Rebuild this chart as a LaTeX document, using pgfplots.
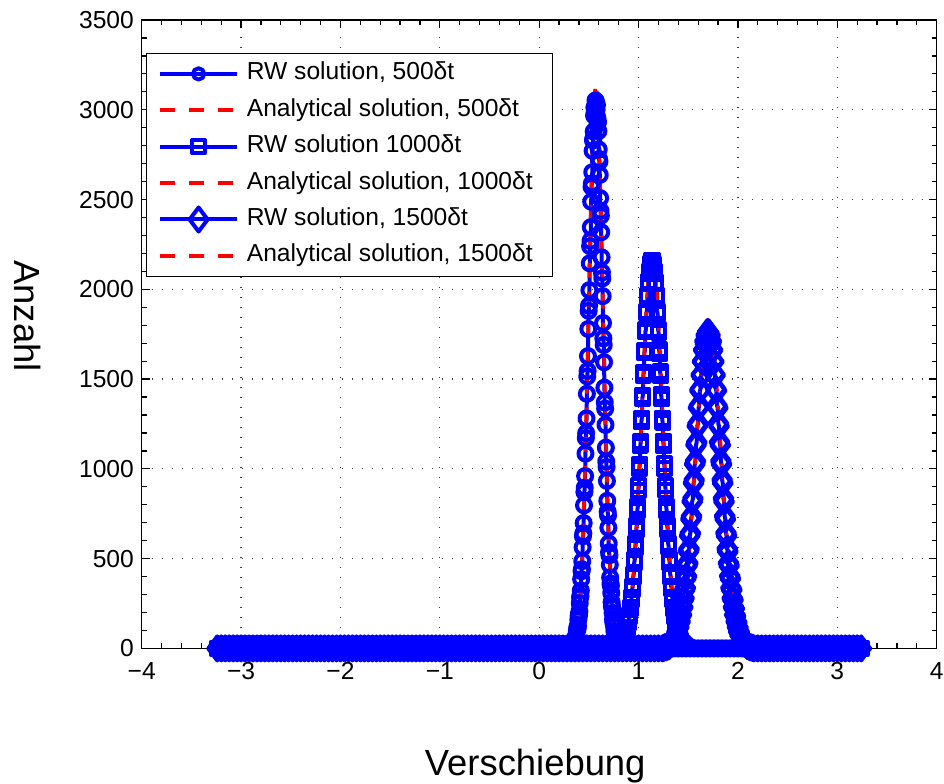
\documentclass[border=0pt]{standalone}
\usepackage{fontspec}
\setmainfont{Liberation Sans}
\usepackage{pgfplots}
\usepackage{pgfplotstable}
\pgfplotsset{compat=1.18}

% histogram baseline: bins with zero counts
\pgfplotstableread[row sep=\\]{
x y\\
-3.24 0\\ -3.20 0\\ -3.16 0\\ -3.12 0\\ -3.08 0\\ -3.04 0\\ -3.00 0\\ -2.96 0\\ -2.92 0\\ -2.88 0\\
-2.84 0\\ -2.80 0\\ -2.76 0\\ -2.72 0\\ -2.68 0\\ -2.64 0\\ -2.60 0\\ -2.56 0\\ -2.52 0\\ -2.48 0\\
-2.44 0\\ -2.40 0\\ -2.36 0\\ -2.32 0\\ -2.28 0\\ -2.24 0\\ -2.20 0\\ -2.16 0\\ -2.12 0\\ -2.08 0\\
-2.04 0\\ -2.00 0\\ -1.96 0\\ -1.92 0\\ -1.88 0\\ -1.84 0\\ -1.80 0\\ -1.76 0\\ -1.72 0\\ -1.68 0\\
-1.64 0\\ -1.60 0\\ -1.56 0\\ -1.52 0\\ -1.48 0\\ -1.44 0\\ -1.40 0\\ -1.36 0\\ -1.32 0\\ -1.28 0\\
-1.24 0\\ -1.20 0\\ -1.16 0\\ -1.12 0\\ -1.08 0\\ -1.04 0\\ -1.00 0\\ -0.96 0\\ -0.92 0\\ -0.88 0\\
-0.84 0\\ -0.80 0\\ -0.76 0\\ -0.72 0\\ -0.68 0\\ -0.64 0\\ -0.60 0\\ -0.56 0\\ -0.52 0\\ -0.48 0\\
-0.44 0\\ -0.40 0\\ -0.36 0\\ -0.32 0\\ -0.28 0\\ -0.24 0\\ -0.20 0\\ -0.16 0\\ -0.12 0\\ -0.08 0\\
-0.04 0\\ 0.00 0\\ 0.04 0\\ 0.08 0\\ 0.12 0\\ 0.16 0\\ 0.20 0\\ 0.24 0\\ 0.28 0\\ 0.32 0\\
0.36 0\\ 0.40 0\\ 0.44 0\\ 0.48 0\\ 0.52 0\\ 0.56 0\\ 0.60 0\\ 0.64 0\\ 0.68 0\\ 0.72 0\\
0.76 0\\ 0.80 0\\ 0.84 0\\ 0.88 0\\ 0.92 0\\ 0.96 0\\ 1.00 0\\ 1.04 0\\ 1.08 0\\ 1.12 0\\
1.16 0\\ 1.20 0\\ 1.24 0\\ 1.28 0\\ 1.32 0\\ 1.36 0\\ 1.40 0\\ 1.44 0\\ 1.48 0\\ 1.52 0\\
1.56 0\\ 1.60 0\\ 1.64 0\\ 1.68 0\\ 1.72 0\\ 1.76 0\\ 1.80 0\\ 1.84 0\\ 1.88 0\\ 1.92 0\\
1.96 0\\ 2.00 0\\ 2.04 0\\ 2.08 0\\ 2.12 0\\ 2.16 0\\ 2.20 0\\ 2.24 0\\ 2.28 0\\ 2.32 0\\
2.36 0\\ 2.40 0\\ 2.44 0\\ 2.48 0\\ 2.52 0\\ 2.56 0\\ 2.60 0\\ 2.64 0\\ 2.68 0\\ 2.72 0\\
2.76 0\\ 2.80 0\\ 2.84 0\\ 2.88 0\\ 2.92 0\\ 2.96 0\\ 3.00 0\\ 3.04 0\\ 3.08 0\\ 3.12 0\\
3.16 0\\ 3.20 0\\ 3.24 0\\
}\zeroline

\pgfplotsset{
  rw/.style={color=blue, solid, line width=2pt, line join=round,
    mark options={solid, line width=2pt}},
  an/.style={color=red, line width=1.8pt, line join=round,
    dash pattern=on 7.5pt off 7pt},
  rwlegend/.style={legend image code/.code={%
    \draw[##1, mark repeat=2, mark phase=2, #1]
      plot coordinates {(0pt,0pt) (19.15pt,0pt) (38.3pt,0pt)};}},
  anlegend/.style={legend image code/.code={%
    \draw[##1] (0pt,0pt) -- (38.3pt,0pt);}},
}

\begin{document}
\begin{tikzpicture}
\begin{axis}[
  scale only axis,
  width=397.5pt, height=314.2pt,
  xmin=-4, xmax=4, ymin=0, ymax=3500,
  xtick={-4,-3,-2,-1,0,1,2,3,4},
  xticklabels={−4,−3,−2,−1,0,1,2,3,4},
  ytick={0,500,1000,1500,2000,2500,3000,3500},
  yticklabels={0,500,1000,1500,2000,2500,3000,3500},
  minor x tick num=4, minor y tick num=4,
  tick align=inside,
  major tick length=4pt, minor tick length=2.5pt,
  every tick/.style={black, line width=0.6pt},
  axis line style={line width=0.6pt},
  grid=major,
  major grid style={black!75, line width=0.6pt, dash pattern=on 0.6pt off 4.4pt},
  tick label style={font=\fontsize{12.3}{14}\selectfont},
  xticklabel style={yshift=-3.4pt},
  yticklabel style={xshift=-0.4pt},
  clip=false,
  xlabel={Verschiebung},
  ylabel={Anzahl},
  every axis x label/.style={at={(axis description cs:0.495,0)},
    anchor=base, yshift=-63.4pt, font=\fontsize{18.2}{22}\selectfont},
  every axis y label/.style={at={(axis description cs:0,0.529)},
    xshift=-63.4pt, rotate=-90, anchor=base, font=\fontsize{18.2}{22}\selectfont},
  legend style={
    at={(axis description cs:0.0054,0.948)}, anchor=north west,
    draw=black, line width=0.6pt, fill=white,
    font=\fontsize{12.3}{14}\selectfont,
    inner xsep=5.85pt, inner ysep=4.3pt,
    row sep=6.2pt,
    nodes={inner ysep=0pt, inner xsep=4pt, text height=9pt, text depth=3pt},
  },
  legend cell align=left,
]

% ---- 500 dt ----
\addplot[rw, mark=o, mark size=3.5pt, forget plot, restrict x to domain=-4:0.30] table {\zeroline};
\addplot[rw, mark=o, mark size=3.5pt, forget plot, restrict x to domain=0.83:4] table {\zeroline};
\addplot[rw, mark=o, mark size=3.5pt, rwlegend={mark size=2.8pt}] coordinates {
(0.318,4)(0.3252,12)(0.3324,9)(0.3396,22)(0.3468,19)(0.354,41)(0.3576,35)(0.3612,38)
(0.3648,57)(0.3684,66)(0.372,64)(0.3756,72)(0.3792,98)(0.3828,115)(0.3864,110)
(0.390,126)(0.3936,160)(0.3972,183)(0.4008,186)(0.4044,205)(0.408,251)(0.4116,284)
(0.4152,292)(0.4188,322)(0.4224,385)(0.426,430)(0.4296,441)(0.4332,486)(0.4368,563)
(0.4404,625)(0.444,641)(0.4476,698)(0.4512,797)(0.4548,871)(0.4584,895)(0.462,960)
(0.4656,1085)(0.4692,1172)(0.4728,1199)(0.4764,1281)(0.480,1418)(0.4836,1515)
(0.4872,1545)(0.4908,1628)(0.4944,1779)(0.498,1880)(0.5016,1909)(0.5052,1995)
(0.5088,2145)(0.5124,2240)(0.516,2270)(0.5196,2346)(0.5232,2488)(0.5268,2571)
(0.5304,2590)(0.534,2652)(0.5376,2771)(0.5412,2830)(0.5448,2838)(0.5484,2879)
(0.552,2968)(0.5556,3012)(0.5592,2985)(0.5628,2998)(0.5664,3052)(0.570,3046)
(0.5736,3018)(0.5772,3001)(0.5808,3027)(0.5844,2957)(0.588,2924)(0.5916,2935)
(0.5952,2881)(0.5988,2779)(0.6024,2725)(0.606,2712)(0.6096,2637)(0.6132,2508)
(0.6168,2437)(0.6204,2410)(0.624,2318)(0.6276,2178)(0.6312,2094)(0.6348,2061)
(0.6384,1962)(0.642,1812)(0.6456,1727)(0.6492,1690)(0.6528,1594)(0.6564,1452)
(0.660,1370)(0.6636,1335)(0.6672,1245)(0.6708,1118)(0.6744,1041)(0.678,1010)
(0.6816,933)(0.6852,822)(0.6888,761)(0.6924,741)(0.696,672)(0.6996,584)(0.7032,536)
(0.7068,519)(0.7104,466)(0.714,395)(0.7176,361)(0.7212,349)(0.7248,309)(0.7284,258)
(0.732,235)(0.7356,227)(0.7392,198)(0.7428,162)(0.7464,146)(0.750,141)(0.7536,122)
(0.7572,97)(0.7608,87)(0.7644,85)(0.768,72)(0.7716,54)(0.7752,49)(0.7788,49)
(0.7824,41)(0.786,30)(0.7932,27)(0.8004,15)(0.8076,14)(0.8148,7)(0.822,5)
};
\addlegendentry{RW solution, 500δt}
\addplot[an, anlegend] coordinates {
(-3.24,0)(0.282,1)(0.300,3)(0.318,7)(0.336,16)(0.354,35)(0.372,72)(0.390,138)
(0.408,251)(0.426,426)(0.444,681)(0.462,1023)(0.480,1442)(0.498,1911)(0.516,2378)
(0.534,2780)(0.552,3053)(0.570,3150)(0.588,3053)(0.606,2780)(0.624,2378)(0.642,1911)
(0.660,1442)(0.678,1023)(0.696,681)(0.714,426)(0.732,251)(0.750,138)(0.768,72)
(0.786,35)(0.804,16)(0.822,7)(0.840,3)(0.858,1)(3.24,0)
};
\addlegendentry{Analytical solution, 500δt}

% ---- 1000 dt ----
\addplot[rw, mark=square, mark size=3.25pt, forget plot, restrict x to domain=-4:0.77] table {\zeroline};
\addplot[rw, mark=square, mark size=3.25pt, forget plot, restrict x to domain=1.50:4] table {\zeroline};
\addplot[rw, mark=square, mark size=3.25pt, rwlegend={}] coordinates {
(0.778,3)(0.7882,9)(0.7984,6)(0.8086,15)(0.8188,14)(0.829,28)(0.8392,29)(0.8494,47)
(0.8596,52)(0.8698,79)(0.880,88)(0.8851,113)(0.8902,116)(0.8953,142)(0.9004,147)
(0.9055,178)(0.9106,184)(0.9157,221)(0.9208,229)(0.9259,271)(0.931,283)(0.9361,330)
(0.9412,345)(0.9463,398)(0.9514,414)(0.9565,477)(0.9616,495)(0.9667,564)(0.9718,585)
(0.9769,661)(0.982,683)(0.9871,768)(0.9922,790)(0.9973,881)(1.0024,905)(1.0075,1003)
(1.0126,1026)(1.0177,1131)(1.0228,1152)(1.0279,1261)(1.033,1282)(1.0381,1392)
(1.0432,1410)(1.0483,1521)(1.0534,1539)(1.0585,1646)(1.0636,1660)(1.0687,1763)
(1.0738,1775)(1.0789,1869)(1.084,1877)(1.0891,1962)(1.0942,1966)(1.0993,2041)
(1.1044,2036)(1.1095,2102)(1.1146,2089)(1.1197,2143)(1.1248,2121)(1.1299,2163)
(1.135,2134)(1.1401,2160)(1.1452,2122)(1.1503,2141)(1.1554,2090)(1.1605,2099)
(1.1656,2038)(1.1707,2040)(1.1758,1968)(1.1809,1961)(1.186,1878)(1.1911,1866)
(1.1962,1777)(1.2013,1760)(1.2064,1664)(1.2115,1642)(1.2166,1541)(1.2217,1518)
(1.2268,1413)(1.2319,1390)(1.237,1283)(1.2421,1259)(1.2472,1154)(1.2523,1129)
(1.2574,1028)(1.2625,1002)(1.2676,906)(1.2727,880)(1.2778,791)(1.2829,767)
(1.288,683)(1.2931,662)(1.2982,584)(1.3033,565)(1.3084,494)(1.3135,478)(1.3186,413)
(1.3237,399)(1.3288,344)(1.3339,331)(1.339,282)(1.3441,272)(1.3492,228)(1.3543,220)
(1.3594,185)(1.3645,177)(1.3696,148)(1.3747,141)(1.3798,117)(1.3849,111)(1.390,90)
(1.4002,77)(1.4104,53)(1.4206,46)(1.4308,30)(1.441,26)(1.4512,16)(1.4614,14)
(1.4716,8)(1.4818,6)(1.492,4)
};
\addlegendentry{RW solution 1000δt}
\addplot[an, anlegend] coordinates {
(-3.24,0)(0.729,1)(0.7545,2)(0.780,5)(0.8055,11)(0.831,25)(0.8565,51)(0.882,98)
(0.9075,177)(0.933,301)(0.9585,481)(0.984,722)(1.0095,1019)(1.035,1350)(1.0605,1680)
(1.086,1964)(1.1115,2157)(1.137,2225)(1.1625,2157)(1.188,1964)(1.2135,1680)(1.239,1350)
(1.2645,1019)(1.290,722)(1.3155,481)(1.341,301)(1.3665,177)(1.392,98)(1.4175,51)
(1.443,25)(1.4685,11)(1.494,5)(1.5195,2)(1.545,1)(3.24,0)
};
\addlegendentry{Analytical solution, 1000δt}

% ---- 1500 dt ----
\addplot[rw, mark=diamond, mark size=6pt, forget plot, restrict x to domain=-4:1.245] table {\zeroline};
\addplot[rw, mark=diamond, mark size=6pt, forget plot, restrict x to domain=2.155:4] table {\zeroline};
\addplot[rw, mark=diamond, mark size=6pt, rwlegend={}] coordinates {
(1.252,2)(1.2648,7)(1.2776,6)(1.2904,12)(1.3032,11)(1.316,22)(1.3288,24)(1.3416,38)
(1.3544,43)(1.3672,64)(1.380,73)(1.3864,92)(1.3928,95)(1.3992,116)(1.4056,119)
(1.412,145)(1.4184,150)(1.4248,180)(1.4312,187)(1.4376,222)(1.444,230)(1.4504,270)
(1.4568,280)(1.4632,325)(1.4696,337)(1.476,389)(1.4824,402)(1.4888,461)(1.4952,475)
(1.5016,540)(1.508,554)(1.5144,627)(1.5208,642)(1.5272,720)(1.5336,736)(1.540,818)
(1.5464,835)(1.5528,921)(1.5592,938)(1.5656,1026)(1.572,1043)(1.5784,1133)
(1.5848,1148)(1.5912,1238)(1.5976,1252)(1.604,1340)(1.6104,1351)(1.6168,1436)
(1.6232,1444)(1.6296,1522)(1.636,1526)(1.6424,1598)(1.6488,1597)(1.6552,1663)
(1.6616,1656)(1.668,1712)(1.6744,1699)(1.6808,1745)(1.6872,1726)(1.6936,1762)
(1.700,1735)(1.7064,1759)(1.7128,1727)(1.7192,1744)(1.7256,1700)(1.732,1711)
(1.7384,1657)(1.7448,1662)(1.7512,1599)(1.7576,1597)(1.764,1527)(1.7704,1521)
(1.7768,1445)(1.7832,1435)(1.7896,1352)(1.796,1339)(1.8024,1253)(1.8088,1237)
(1.8152,1149)(1.8216,1132)(1.828,1044)(1.8344,1025)(1.8408,939)(1.8472,920)
(1.8536,836)(1.860,817)(1.8664,737)(1.8728,719)(1.8792,643)(1.8856,626)(1.892,555)
(1.8984,539)(1.9048,476)(1.9112,460)(1.9176,403)(1.924,388)(1.9304,337)(1.9368,325)
(1.9432,280)(1.9496,269)(1.956,230)(1.9624,221)(1.9688,187)(1.9752,179)(1.9816,151)
(1.988,144)(1.9944,120)(2.0008,115)(2.0072,95)(2.0136,90)(2.020,74)(2.0328,63)
(2.0456,44)(2.0584,37)(2.0712,24)(2.084,21)(2.0968,12)(2.1096,11)(2.1224,6)
(2.1352,6)(2.148,3)
};
\addlegendentry{RW solution, 1500δt}
\addplot[an, anlegend] coordinates {
(-3.24,0)(1.203,1)(1.23425,2)(1.2655,4)(1.29675,9)(1.328,20)(1.35925,42)(1.3905,80)
(1.42175,146)(1.453,248)(1.48425,396)(1.5155,594)(1.54675,838)(1.578,1110)
(1.60925,1381)(1.6405,1615)(1.67175,1774)(1.703,1830)(1.73425,1774)(1.7655,1615)
(1.79675,1381)(1.828,1110)(1.85925,838)(1.8905,594)(1.92175,396)(1.953,248)
(1.98425,146)(2.0155,80)(2.04675,42)(2.078,20)(2.10925,9)(2.1405,4)(2.17175,2)
(2.203,1)(3.24,0)
};
\addlegendentry{Analytical solution, 1500δt}
\end{axis}
\pgfresetboundingbox
\path[use as bounding box] (-70.85pt,-67.35pt) rectangle (401.15pt,324.2pt);
\end{tikzpicture}
\end{document}
